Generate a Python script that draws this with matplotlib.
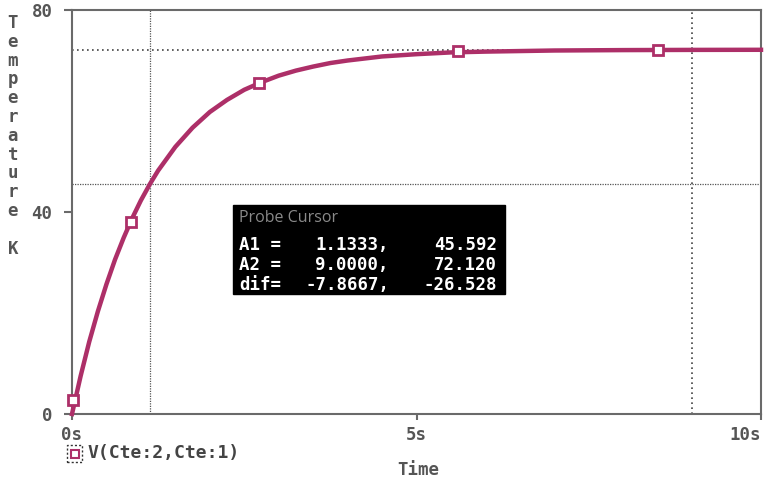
import matplotlib
matplotlib.use("Agg")
import matplotlib.pyplot as plt

# transient response of the node voltage (read as temperature)
time_s = [0.0, 0.125, 0.25, 0.375, 0.5, 0.625, 0.75, 0.875, 1.0, 1.1333,
          1.25, 1.5, 1.75, 2.0, 2.25, 2.5, 2.75, 3.0, 3.25, 3.5, 3.75, 4.0,
          4.5, 5.0, 5.5, 6.0, 7.0, 8.0, 9.0, 10.0]
temp_k = [0.0, 7.5, 14.3, 20.3, 25.7, 30.6, 34.9, 38.8, 42.3, 45.592,
          48.2, 52.9, 56.7, 59.8, 62.2, 64.2, 65.7, 67.0, 68.0, 68.8, 69.5,
          70.0, 70.8, 71.25, 71.6, 71.76, 71.98, 72.06, 72.1, 72.12]

# marker positions along the trace
marker_t = [0.02, 0.85, 2.72, 5.6, 8.5]
marker_v = [2.8, 38.0, 65.6, 71.9, 72.1]

# probe cursors
cursor_a1 = (1.1333, 45.592)
cursor_a2 = (9.0000, 72.120)
cursor_names = ["A1 =", "A2 =", "dif="]
cursor_x = ["1.1333,", "9.0000,", "-7.8667,"]
cursor_y = ["45.592", "72.120", "-26.528"]

ylabel_chars = list("Temperature") + [" ", "K"]

trace_color = "#ad2f68"
text_gray = "#555555"
axis_gray = "#6a6a6a"
mono = {"family": "DejaVu Sans Mono", "weight": "bold"}

fig = plt.figure(figsize=(7.64, 4.83), dpi=100)
ax = fig.add_axes([72 / 764, 1 - 414 / 483, 689 / 764, 404 / 483])

ax.set_xlim(0, 10)
ax.set_ylim(0, 80)

# cursor crosshairs
ax.axvline(cursor_a1[0], color="#555555", lw=0.9, ls=(0, (1, 1)), zorder=1)
ax.axhline(cursor_a1[1], color="#555555", lw=0.9, ls=(0, (1, 1)), zorder=1)
ax.axvline(cursor_a2[0], color="#444444", lw=1.2, ls=(0, (1, 2)), zorder=1)
ax.axhline(cursor_a2[1], color="#444444", lw=1.2, ls=(0, (1, 2)), zorder=1)

ax.plot(time_s, temp_k, color=trace_color, lw=3.2, solid_joinstyle="round",
        zorder=3, clip_on=False)
ax.plot(marker_t, marker_v, ls="none", marker="s", ms=7, mew=2,
        mec=trace_color, mfc="white", zorder=4, clip_on=False)

for side in ["left", "right", "top", "bottom"]:
    ax.spines[side].set_color(axis_gray)
    ax.spines[side].set_linewidth(1.5)

ax.set_xticks([0, 5, 10])
ax.set_xticklabels(["0s", "5s", "10s"])
ax.set_yticks([0, 40, 80])
ax.set_yticklabels(["0", "40", "80"])
ax.tick_params(axis="x", length=4, width=1.5, color=axis_gray, pad=5,
               labelsize=12.5, labelcolor=text_gray)
ax.tick_params(axis="y", length=6, width=1.5, color=axis_gray, pad=8,
               labelsize=12.5, labelcolor=text_gray)
for lbl in ax.get_xticklabels() + ax.get_yticklabels():
    lbl.set_fontfamily(mono["family"])
    lbl.set_fontweight(mono["weight"])
ax.get_xticklabels()[-1].set_horizontalalignment("right")

# vertical axis title, one letter per line
for i, ch in enumerate(ylabel_chars):
    fig.text(13 / 764, 1 - (23 + i * 18.8) / 483, ch, ha="center", va="center",
             fontsize=12.5, color=text_gray, **mono)

fig.text(418 / 764, 1 - 470 / 483, "Time", ha="center", va="center",
         fontsize=12.5, color=text_gray, **mono)

# legend entry
fig.patches.append(plt.Rectangle((67 / 764, 1 - 462 / 483), 15 / 764, 17 / 483,
                                 transform=fig.transFigure, fill=False,
                                 ec="#333333", lw=1, ls=(0, (1.5, 1.5))))
fig.lines.append(plt.Line2D([74.5 / 764], [1 - 453.5 / 483], transform=fig.transFigure,
                            marker="s", ms=6, mew=1.5, mec=trace_color, mfc="white"))
fig.text(87 / 764, 1 - 453 / 483, "V(Cte:2,Cte:1)", ha="left", va="center",
         fontsize=13, color="#444444", **mono)

# probe cursor readout box
fig.patches.append(plt.Rectangle((233 / 764, 1 - 294 / 483), 272 / 764, 89 / 483,
                                 transform=fig.transFigure, color="black",
                                 zorder=5))
fig.text(239 / 764, 1 - 218 / 483, "Probe Cursor", ha="left", va="center",
         fontsize=11.5, color="#8a8a8a", family="Open Sans", zorder=6)
for i in range(len(cursor_names)):
    row_y = 1 - (245 + i * 20) / 483
    fig.text(239 / 764, row_y, cursor_names[i], ha="left", va="center",
             fontsize=12.5, color="white", zorder=6, **mono)
    fig.text(389 / 764, row_y, cursor_x[i], ha="right", va="center",
             fontsize=12.5, color="white", zorder=6, **mono)
    fig.text(497 / 764, row_y, cursor_y[i], ha="right", va="center",
             fontsize=12.5, color="white", zorder=6, **mono)

fig.savefig("out.png", dpi=100)
